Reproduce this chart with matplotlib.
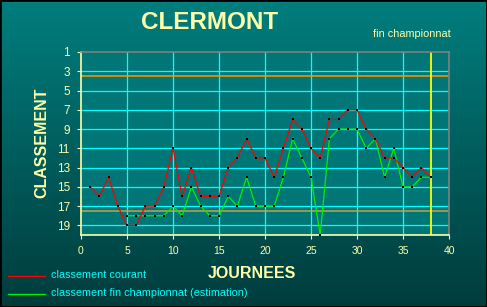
import numpy as np
import matplotlib
matplotlib.use("Agg")
import matplotlib.pyplot as plt
from matplotlib.patches import Rectangle
from matplotlib.colors import LinearSegmentedColormap

# donnees
journees_courant = np.arange(1, 39)
classement_courant = [15, 16, 14, 17, 19, 19, 17, 17, 15, 11,
                      16, 13, 16, 16, 16, 13, 12, 10, 12, 12,
                      14, 11, 8, 9, 11, 12, 8, 8, 7, 7,
                      9, 10, 12, 12, 13, 14, 13, 14]
journees_fin = np.arange(5, 39)
classement_fin = [18, 18, 18, 18, 18, 17, 18, 15, 17, 18,
                  18, 16, 17, 14, 17, 17, 17, 14, 10, 12,
                  14, 20, 10, 9, 9, 9, 11, 10, 14, 11,
                  15, 15, 14, 14]
x_ticks = [0, 5, 10, 15, 20, 25, 30, 35, 40]
y_ticks = [1, 3, 5, 7, 9, 11, 13, 15, 17, 19]
ligne_haut = 3.5
ligne_bas = 17.5
fin_championnat = 38

jaune = "#ffffa8"
cyan = "#00ffff"

fig = plt.figure(figsize=(4.87, 3.07), dpi=100)

# fond degrade
bg = fig.add_axes([0, 0, 1, 1], zorder=-10)
grad = np.linspace(0, 1, 256).reshape(-1, 1)
cmap = LinearSegmentedColormap.from_list("fond", ["#007e7e", "#003c3c"])
bg.imshow(grad, aspect="auto", cmap=cmap, extent=[0, 1, 0, 1])
bg.set_axis_off()

ax = fig.add_axes([81 / 487, 1 - 235 / 307, 368 / 487, 183 / 307])
ax.set_facecolor("#007676")

# grille
for y in y_ticks[1:]:
    ax.axhline(y, color=cyan, lw=0.9, zorder=1)
for x in x_ticks[1:-1]:
    ax.axvline(x, color=cyan, lw=0.9, zorder=1)
ax.axhline(ligne_haut, color="#ff9900", lw=1.1, zorder=2)
ax.axhline(ligne_bas, color="#c8a048", lw=1.1, zorder=2)
ax.axvline(fin_championnat, color="#ffff00", lw=1.3, zorder=2)

ax.plot(journees_fin, classement_fin, color="#00f000", lw=0.9, zorder=3,
        marker="s", ms=1.7, mew=0, mfc="black")
ax.plot(journees_courant, classement_courant, color="#ff0000", lw=0.9, zorder=4,
        marker="s", ms=1.7, mew=0, mfc="black")

ax.set_xlim(0, 40)
ax.set_ylim(20, 1)
ax.set_xticks(x_ticks)
ax.set_yticks(y_ticks)
ax.tick_params(axis="x", colors=jaune, labelcolor=jaune, labelsize=7.5,
               length=3, pad=5)
ax.tick_params(axis="y", colors=jaune, labelcolor=jaune, labelsize=8.5,
               length=3, pad=5)
for lab in ax.get_xticklabels() + ax.get_yticklabels():
    lab.set_family("Liberation Sans")
ax.spines["left"].set_color(jaune)
ax.spines["bottom"].set_color(jaune)
ax.spines["top"].set_color("#808080")
ax.spines["right"].set_color("#808080")
for s in ax.spines.values():
    s.set_linewidth(1.2)

fig.text(210 / 487, 1 - 22.5 / 307, "CLERMONT", color=jaune, fontsize=17.5,
         fontweight="bold", family="Liberation Sans", ha="center", va="center")
fig.text(412 / 487, 1 - 34 / 307, "fin championnat", color=jaune, fontsize=7.8,
         family="Liberation Sans", ha="center", va="center")
fig.text(42 / 487, 1 - 143 / 307, "CLASSEMENT", color=jaune, fontsize=11.5,
         fontweight="bold", family="Liberation Sans", rotation=90,
         ha="center", va="center")
fig.text(252 / 487, 1 - 274 / 307, "JOURNEES", color=jaune, fontsize=11.5,
         fontweight="bold", family="Liberation Sans", ha="center", va="center")

# legende
fig.add_artist(plt.Line2D([8 / 487, 45 / 487], [1 - 276 / 307] * 2,
                          color="#ff0000", lw=1))
fig.add_artist(plt.Line2D([8 / 487, 45 / 487], [1 - 294 / 307] * 2,
                          color="#00f000", lw=1))
fig.text(51 / 487, 1 - 275 / 307, "classement courant", color=cyan,
         fontsize=7.8, family="Liberation Sans", ha="left", va="center")
fig.text(51 / 487, 1 - 293.5 / 307, "classement fin championnat (estimation)",
         color=cyan, fontsize=7.8, family="Liberation Sans", ha="left",
         va="center")

fig.add_artist(Rectangle((0, 0), 1, 1, transform=fig.transFigure,
                         fill=False, edgecolor="black", lw=2))

fig.savefig("out.png", dpi=100)
